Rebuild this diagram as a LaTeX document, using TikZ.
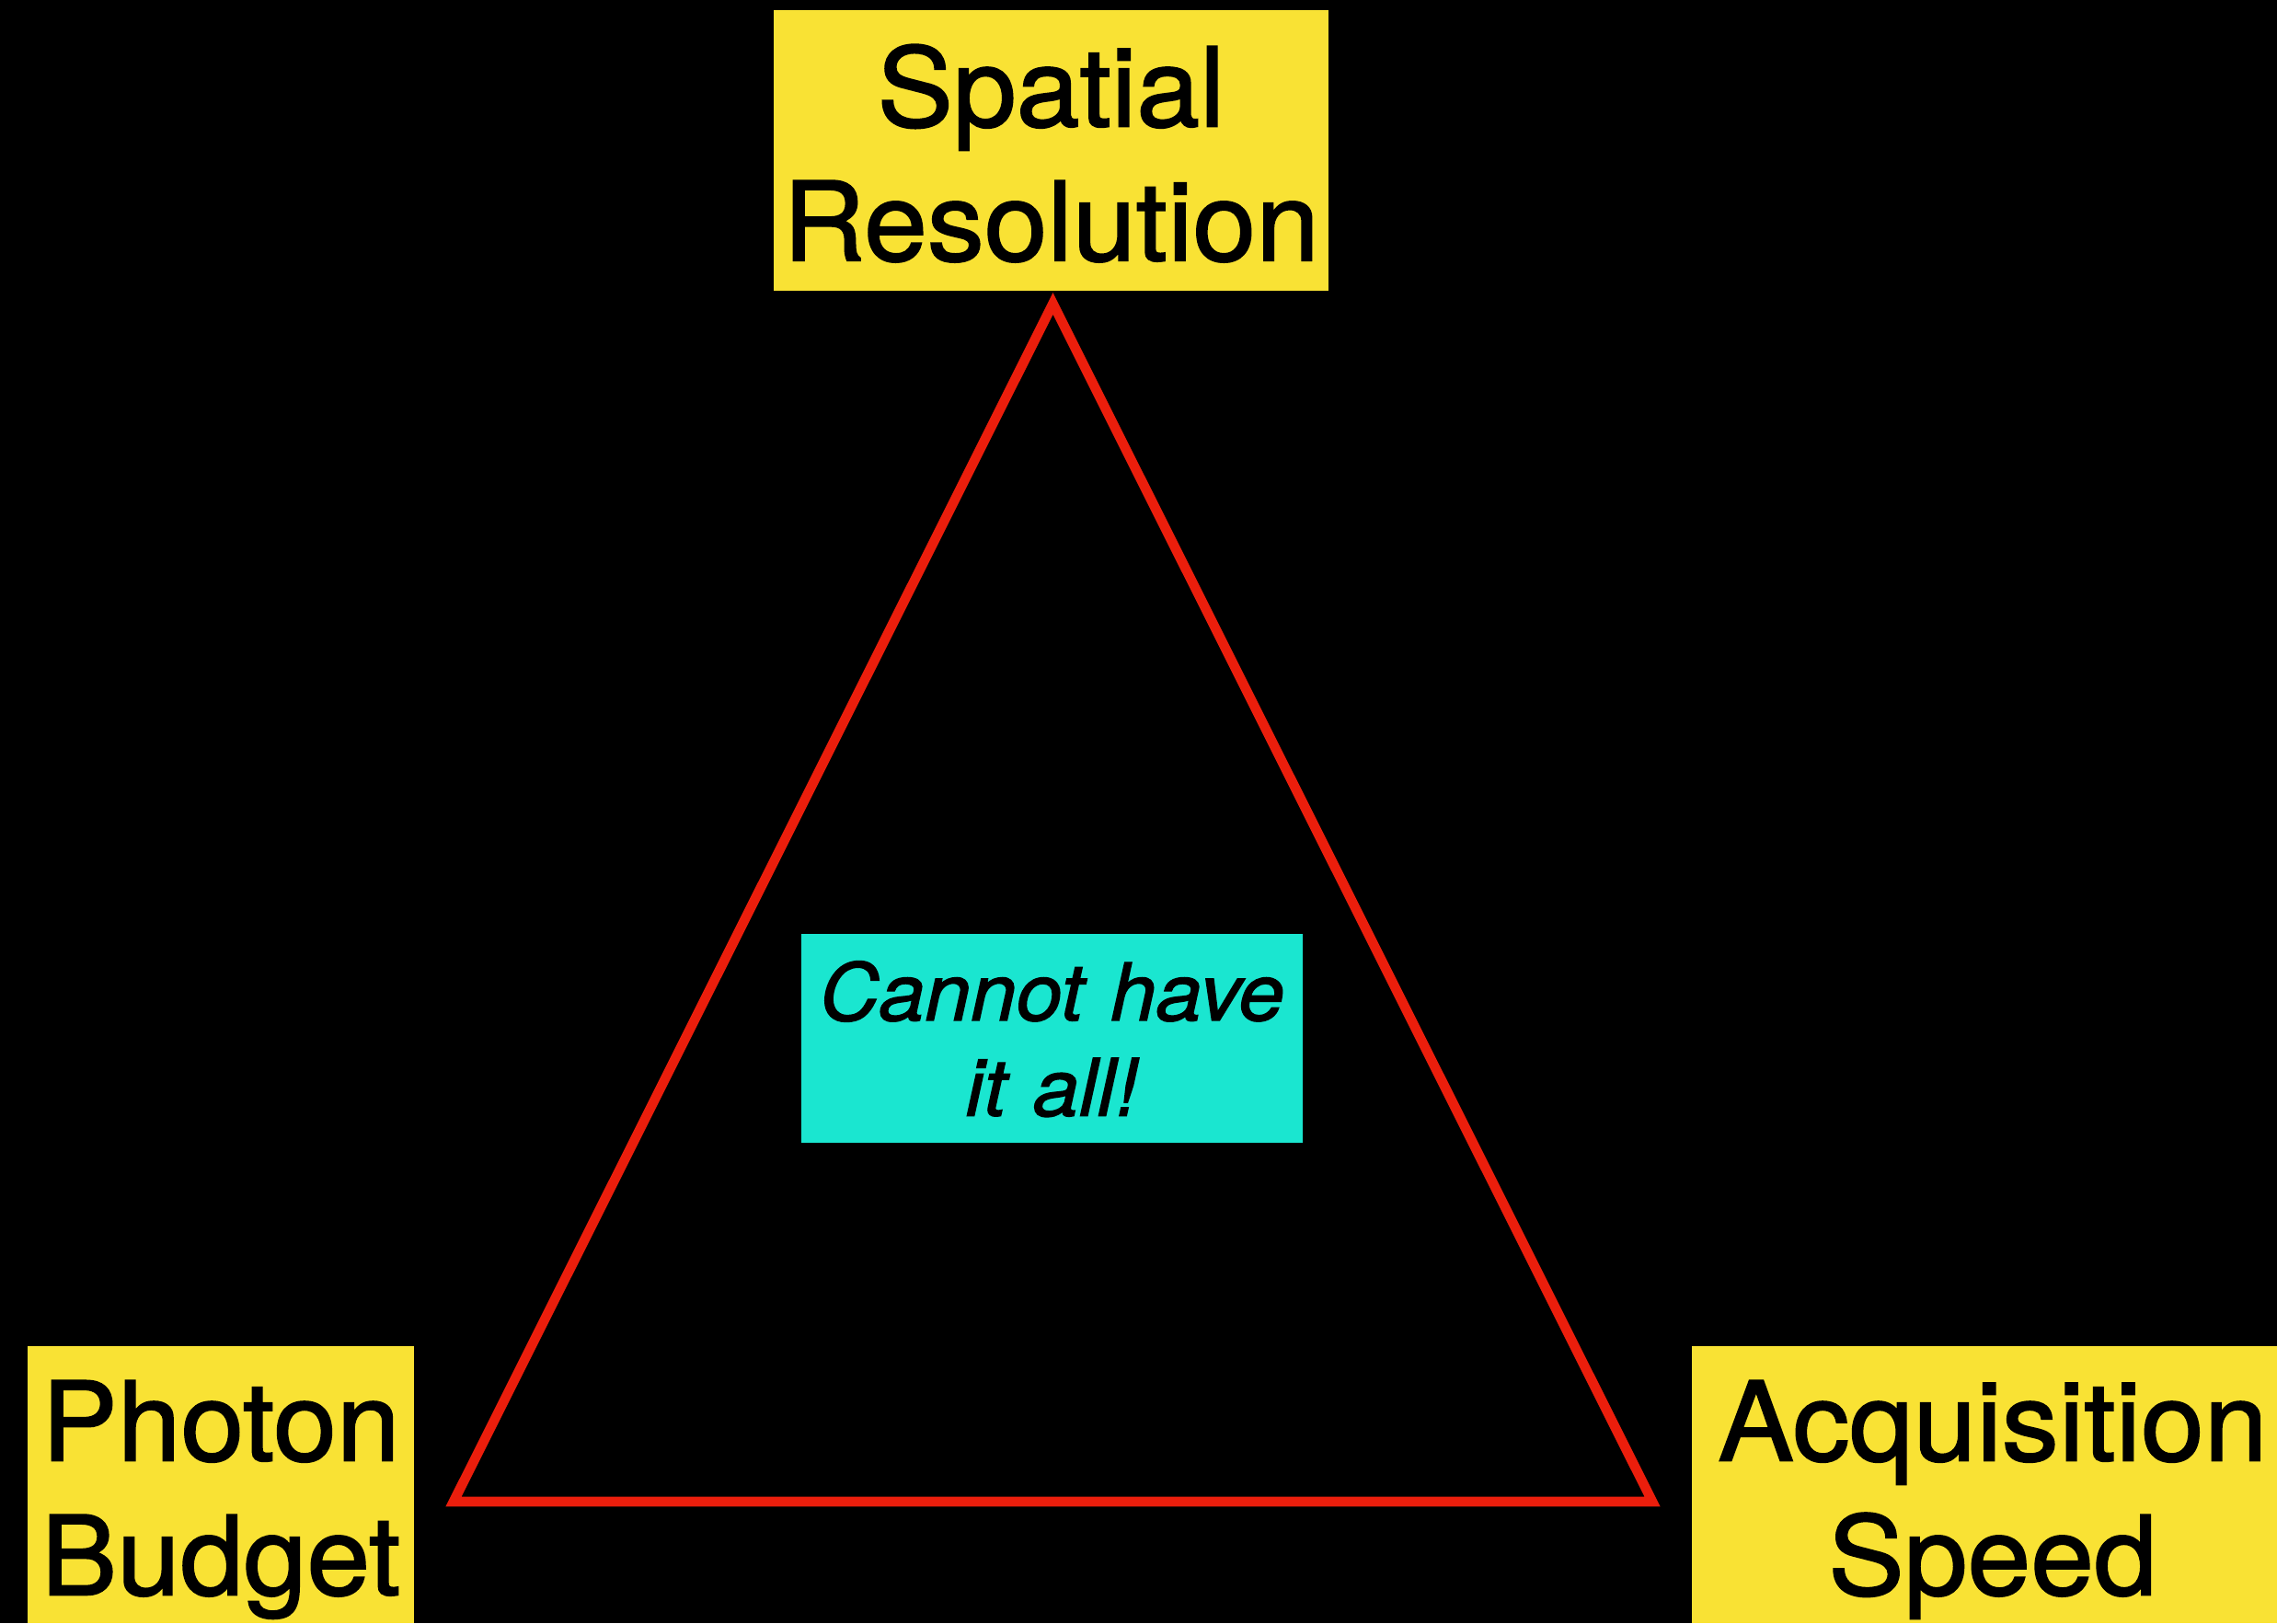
\documentclass[tikz,border=0pt]{standalone}
\usepackage{fontspec}
\setmainfont{TeX Gyre Heros}[FakeBold=1.5,FakeStretch=1.035]
\definecolor{boxyellow}{RGB}{249,226,52}
\definecolor{notecyan}{RGB}{26,230,208}
\definecolor{trired}{RGB}{235,30,12}

\begin{document}
\begin{tikzpicture}[main_node/.style={fill=boxyellow,inner sep=0pt,align=center,font=\fontsize{34}{41.5}\selectfont,text height=1.0cm,text depth=1.52cm,minimum height=3.01cm},
  note_node/.style={fill=notecyan,inner sep=0pt,align=center,font=\fontsize{24.6}{29.5}\selectfont\itshape,text height=0.8cm,text depth=1.19cm,minimum height=2.27cm},
  side/.style={draw=trired,line width=3pt,line join=miter}]

    \useasboundingbox (0,0) rectangle (24.75,17.64);
    \fill[black] (0,0) rectangle (24.75,17.64);

    \node[main_node,text width=6.03cm,minimum height=3.05cm] (1) at (11.425, 16.005) {Spatial\\Resolution};
    \node[main_node,text width=4.20cm] (2) at (2.40, 1.505) {Photon\\Budget};
    \node[main_node,text width=6.54cm] (3) at (21.66, 1.505) {Acquisition\\Speed};
    \node[note_node,text width=5.45cm] (4) at (11.435, 6.355) {Cannot have\\it all!};

    \coordinate (a) at (11.445, 14.34);
    \coordinate (b) at (4.93, 1.32);
    \coordinate (c) at (17.96, 1.32);

    \draw[side] (a) -- (b) -- (c) -- cycle;

\end{tikzpicture}
\end{document}
